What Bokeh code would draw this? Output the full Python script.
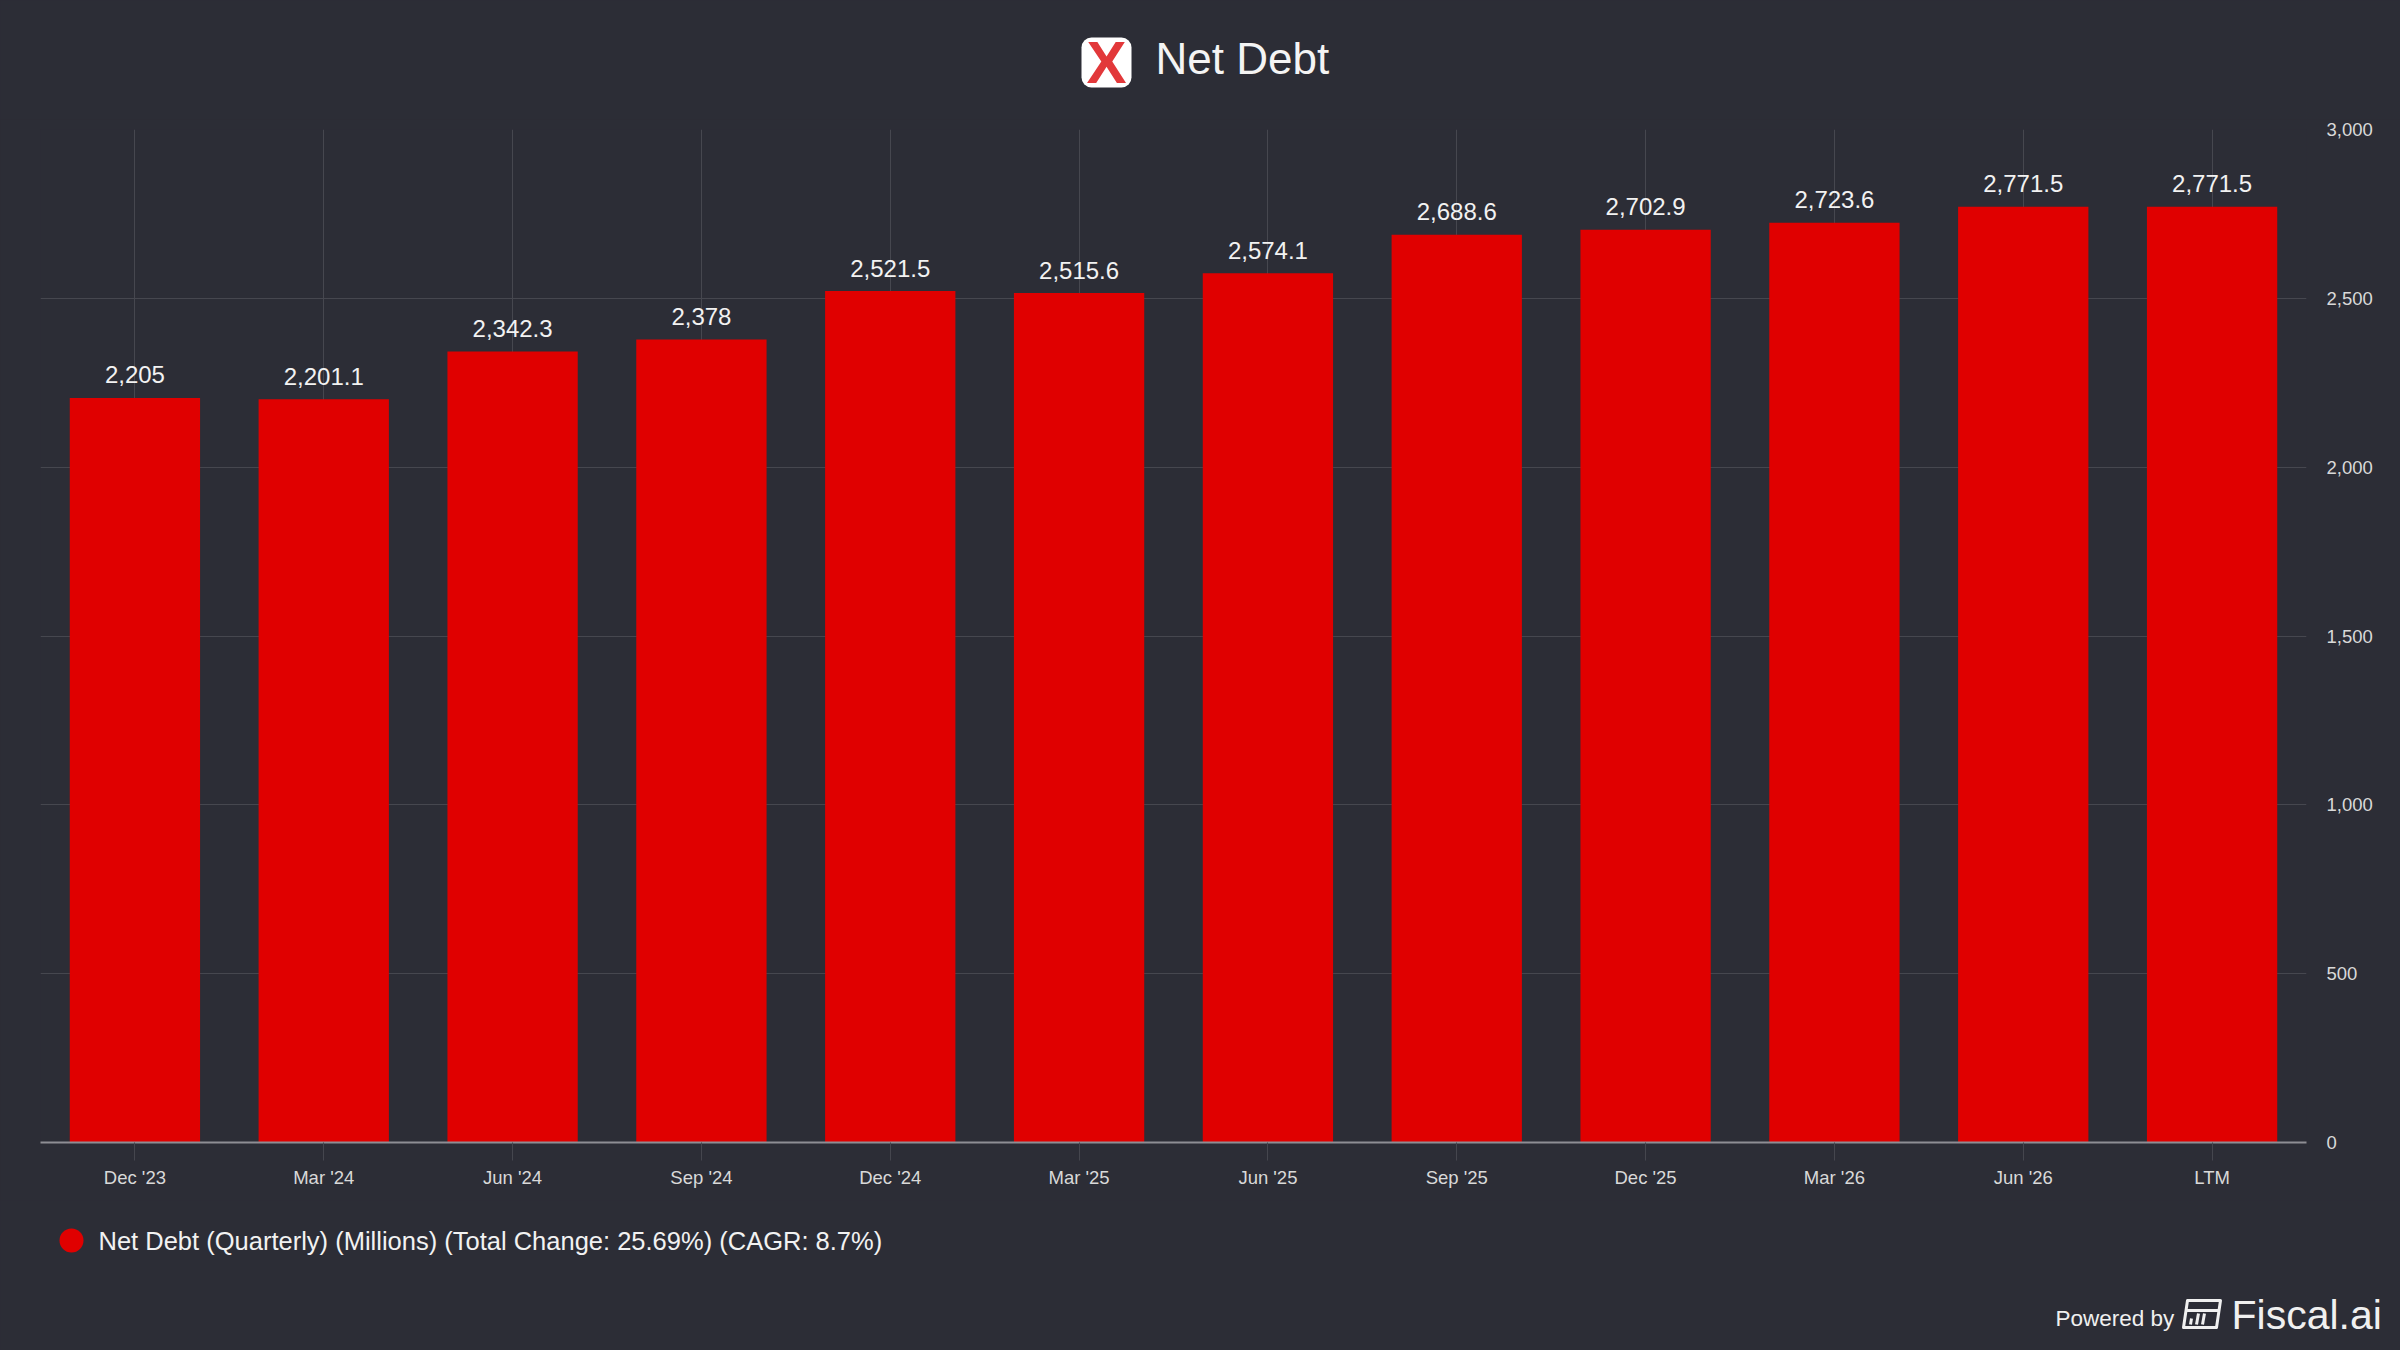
from bokeh.plotting import figure
from bokeh.layouts import column
from bokeh.models import (ColumnDataSource, FactorRange, Range1d,
                          SingleIntervalTicker, NumeralTickFormatter)
from bokeh.core.properties import value
from bokeh.embed import file_html
from bokeh.resources import INLINE

# ---- data ----
categories = ["Dec '23", "Mar '24", "Jun '24", "Sep '24", "Dec '24", "Mar '25",
              "Jun '25", "Sep '25", "Dec '25", "Mar '26", "Jun '26", "LTM"]
net_debt = [2205.0, 2201.1, 2342.3, 2378.0, 2521.5, 2515.6,
            2574.1, 2688.6, 2702.9, 2723.6, 2771.5, 2771.5]
y_ticks_interval = 500
y_max = 3000
title_text = "Net Debt"
legend_text = "Net Debt (Quarterly) (Millions) (Total Change: 25.69%) (CAGR: 8.7%)"
footer_text = "Powered by"
brand_text = "Fiscal.ai"

# ---- style ----
BG = "#2c2d36"
RED = "#e00000"
GRID = "#46474f"
FONT = "Liberation Sans"
W = 2400
TOP_H = 119          # title strip
MAIN_H = 1081        # chart
BOT_H = 1350 - TOP_H - MAIN_H   # legend / footer strip


def strip(height, y0):
    """A figure whose frame fills the canvas; y runs downward in page pixels."""
    f = figure(width=W, height=height, x_range=Range1d(0, W),
               y_range=Range1d(y0 + height, y0), output_backend="svg",
               toolbar_location=None, x_axis_location=None, y_axis_location=None,
               min_border=0, frame_align=False)
    f.background_fill_color = BG
    f.border_fill_color = BG
    f.outline_line_color = None
    f.grid.grid_line_color = None
    return f


def fmt(v):
    s = f"{v:,.1f}"
    return s[:-2] if s.endswith(".0") else s


# ---- title strip ----
top = strip(TOP_H, 0)
top.quad(left=[1081], right=[1131], top=[37], bottom=[87], fill_color="white",
         line_color=None, border_radius=10)
top.text(x=[1106], y=[62], text=["X"], text_align="center", text_baseline="middle",
         text_color="#e2383a", text_font=value(FONT), text_font_style="bold",
         text_font_size="60px")
top.text(x=[1155], y=[58], text=[title_text], text_align="left",
         text_baseline="middle", text_color="#f4f4f4", text_font=value(FONT),
         text_font_size="44px")

# ---- main chart ----
src = ColumnDataSource(dict(x=categories, y=net_debt, lbl=[fmt(v) for v in net_debt]))
p = figure(x_range=FactorRange(*categories, range_padding=0),
           y_range=Range1d(0, y_max), width=W, height=MAIN_H,
           output_backend="svg", toolbar_location=None, y_axis_location="right",
           min_border_left=40, min_border_right=94,
           min_border_top=10, min_border_bottom=58, frame_align=False)
p.background_fill_color = BG
p.border_fill_color = BG
p.outline_line_color = None

p.vbar(x="x", top="y", width=0.69, source=src, fill_color=RED, line_color=None)
p.text(x="x", y="y", text="lbl", source=src, y_offset=-23, text_align="center",
       text_baseline="middle", text_color="#f2f2f2", text_font=value(FONT),
       text_font_size="24px")

p.xgrid.grid_line_color = GRID
p.ygrid.grid_line_color = GRID

xa = p.xaxis[0]
xa.axis_line_color = "#8e8e94"
xa.axis_line_width = 2
xa.major_tick_out = 18
xa.major_tick_in = 0
xa.major_tick_line_color = "#45464e"
xa.major_label_text_font = FONT
xa.major_label_text_font_size = "18.5px"
xa.major_label_text_color = "#d9d9d9"
xa.major_label_standoff = 6

ya = p.yaxis[0]
ya.ticker = SingleIntervalTicker(interval=y_ticks_interval, num_minor_ticks=0)
ya.formatter = NumeralTickFormatter(format="0,0")
ya.axis_line_color = None
ya.major_tick_line_color = None
ya.major_tick_out = 0
ya.major_tick_in = 0
ya.minor_tick_line_color = None
ya.major_label_text_font = FONT
ya.major_label_text_font_size = "18.5px"
ya.major_label_text_color = "#d9d9d9"
ya.major_label_standoff = 20

# ---- legend / footer strip ----
bot = strip(BOT_H, TOP_H + MAIN_H)
bot.scatter(x=[71], y=[1240], marker="circle", size=24, fill_color=RED, line_color=None)
bot.text(x=[98], y=[1240], text=[legend_text], text_align="left", text_baseline="middle",
         text_color="#f2f2f2", text_font=value(FONT), text_font_size="25.5px")
bot.text(x=[2055], y=[1318], text=[footer_text], text_align="left",
         text_baseline="middle", text_color="#f0f0f0", text_font=value(FONT),
         text_font_size="22.5px")
# brand icon (slanted card with grid)
bot.patch(x=[2187, 2220, 2216, 2183], y=[1300, 1300, 1327, 1327], fill_color=None,
          line_color="#f0f0f0", line_width=3, line_join="round")
bot.multi_line(xs=[[2186, 2218], [2198, 2196], [2191, 2190], [2204, 2202]],
               ys=[[1310, 1310], [1313, 1324], [1318, 1324], [1313, 1324]],
               line_color="#f0f0f0", line_width=3)
bot.text(x=[2231], y=[1314], text=[brand_text], text_align="left",
         text_baseline="middle", text_color="#f0f0f0", text_font=value(FONT),
         text_font_size="41px")

layout = column(top, p, bot, spacing=0)
html = file_html(layout, INLINE, title="Net Debt")
html = html.replace("<head>", "<head><style>body{background:#2c2d36;}</style>", 1)
open("out.html", "w").write(html)
